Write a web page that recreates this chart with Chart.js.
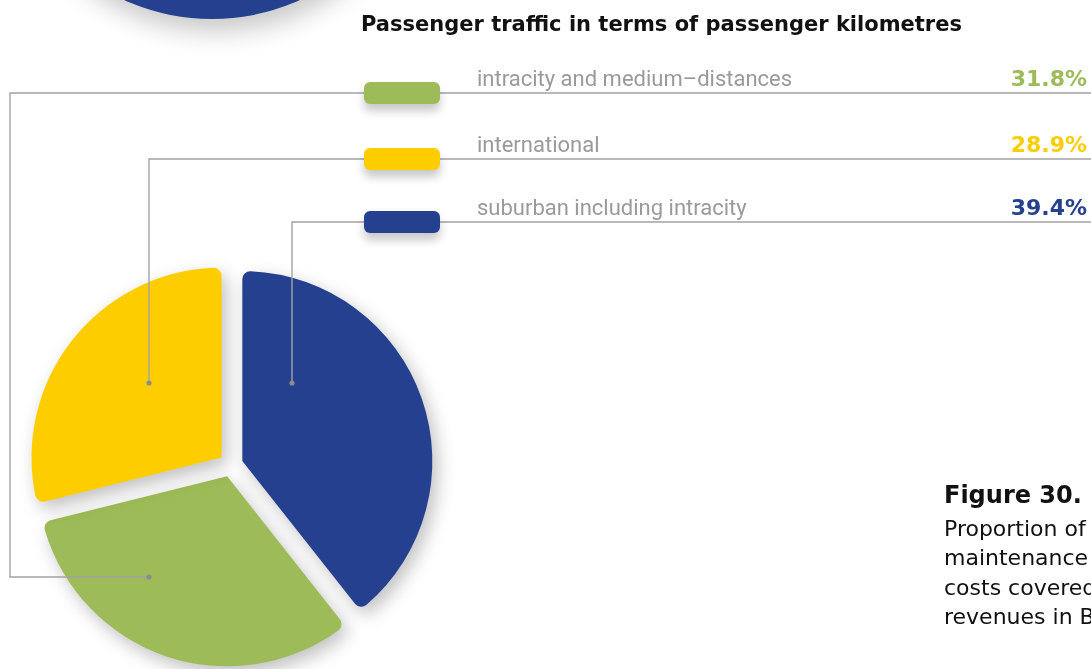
<!DOCTYPE html>
<html lang="en">
<head>
<meta charset="UTF-8">
<title>Passenger traffic in terms of passenger kilometres</title>
<style>
  *{
    margin: 0;
    padding: 0;
  }
  body{
    background: #fff;
  }
  #page{
    position: relative;
    width: 1091px;
    height: 669px;
    overflow: hidden;
    background: #fff;
    font-family: Roboto, sans-serif;
  }
  /* bottom of the previous figure's pie, cut by the page top */
  .prevPie{
    position: absolute;
    left: -1px;
    top: -407px;
    width: 426px;
    height: 426px;
    border-radius: 50%;
    background: #24408e;
    box-shadow: 4px 12px 26px rgba(0,0,0,0.22);
  }
  #pieChart{
    position: absolute;
    left: 0;
    top: 0;
  }
  .title{
    position: absolute;
    left: 361px;
    top: 14px;
    font: 700 21px/21px "DejaVu Sans", sans-serif;
    color: #111;
    white-space: nowrap;
  }
  .pill{
    position: absolute;
    left: 364px;
    width: 76px;
    height: 22px;
    border-radius: 6px;
    box-shadow: 0 7px 10px rgba(0,0,0,0.22);
  }
  .label{
    position: absolute;
    left: 477px;
    font: 400 22px/22px Roboto, sans-serif;
    color: #9a9a9a;
    white-space: nowrap;
  }
  .pct{
    position: absolute;
    right: 4px;
    font: 700 22px/22px "DejaVu Sans", sans-serif;
    white-space: nowrap;
  }
  .capHead{
    position: absolute;
    left: 944px;
    top: 482.7px;
    font: 700 24px/24px "DejaVu Sans", sans-serif;
    color: #111;
    white-space: nowrap;
  }
  .capBody{
    position: absolute;
    left: 944px;
    top: 513.6px;
    font: 400 22px/29.5px "DejaVu Sans", sans-serif;
    color: #111;
    white-space: nowrap;
  }
</style>
</head>
<body>
  <div id="page">
    <div class="prevPie"></div>
    <canvas id="pieChart" width="1091" height="669"></canvas>
    <div class="title">Passenger traffic in terms of passenger kilometres</div>
    <div id="legend"></div>
    <div class="capHead">Figure 30.</div>
    <div class="capBody">Proportion of<br>maintenance<br>costs covered by<br>revenues in Bulgaria</div>
  </div>

  <script src="https://cdn.jsdelivr.net/npm/chart.js"></script>
  <script>
    // shares of passenger kilometres, %
    const categories = ['suburban including intracity', 'intracity and medium–distances', 'international'];
    const shares = [39.4, 31.8, 28.9];
    const sliceColors = ['#24408e', '#9dbb58', '#fecd00'];
    // legend rows from top to bottom (indexes into the arrays above)
    const legendOrder = [1, 2, 0];

    // layout
    const rowY = [93, 159, 222];
    const sliceGap = 12;
    // where each leader line ends, relative to the pie centre
    const leaderDots = [[61, -82], [-82, 112], [-82, -82]];
    const leaderElbowX = [null, 10, null];

    //legend rows
    const legend = document.getElementById('legend');
    legendOrder.forEach((i, row) => {
      const y = rowY[row];
      legend.insertAdjacentHTML('beforeend',
        '<div class="pill" style="top:' + (y - 11) + 'px;background:' + sliceColors[i] + '"></div>' +
        '<div class="label" style="top:' + (y - 25.5) + 'px">' + categories[i] + '</div>' +
        '<div class="pct" style="top:' + (y - 24.6) + 'px;color:' + sliceColors[i] + '">' + shares[i].toFixed(1) + '%</div>');
    });

    // push every slice out from the centre along its middle angle
    const explode = {
      id: 'explode',
      afterDatasetsUpdate(chart){
        chart.getDatasetMeta(0).data.forEach(arc => {
          const mid = (arc.startAngle + arc.endAngle) / 2;
          arc.x += Math.cos(mid) * sliceGap;
          arc.y += Math.sin(mid) * sliceGap;
        });
      }
    };

    // soft drop shadow under the slices
    const sliceShadow = {
      id: 'sliceShadow',
      beforeDatasetsDraw(chart){
        const ctx = chart.ctx;
        ctx.save();
        ctx.shadowColor = 'rgba(0,0,0,0.25)';
        ctx.shadowBlur = 18;
        ctx.shadowOffsetX = 5;
        ctx.shadowOffsetY = 7;
      },
      afterDatasetsDraw(chart){
        chart.ctx.restore();
      }
    };

    // grey lines from the legend rows down to the slices
    const leaderLines = {
      id: 'leaderLines',
      afterDatasetsDraw(chart){
        const ctx = chart.ctx;
        const area = chart.chartArea;
        const cx = (area.left + area.right) / 2;
        const cy = (area.top + area.bottom) / 2;
        ctx.save();
        ctx.strokeStyle = '#a3a3a3';
        ctx.lineWidth = 1.4;
        legendOrder.forEach((i, row) => {
          const y = rowY[row];
          const dx = cx + leaderDots[i][0];
          const dy = cy + leaderDots[i][1];
          const ex = leaderElbowX[i] === null ? dx : leaderElbowX[i];
          ctx.beginPath();
          ctx.moveTo(chart.width, y);
          ctx.lineTo(ex, y);
          ctx.lineTo(ex, dy);
          ctx.lineTo(dx, dy);
          ctx.stroke();
          ctx.fillStyle = '#8c8c8c';
          ctx.beginPath();
          ctx.arc(dx, dy, 2.6, 0, Math.PI * 2);
          ctx.fill();
        });
        ctx.restore();
      }
    };

    const myChart = new Chart(document.getElementById('pieChart'), {
      type: 'pie',
      data: {
        labels: categories,
        datasets: [{
          data: shares,
          backgroundColor: sliceColors,
          borderWidth: 0,
          borderRadius: 8,
          radius: 190
        }]
      },
      options: {
        responsive: false,
        animation: false,
        events: [],
        layout: {
          padding: { left: 31, right: 660, top: 265, bottom: 4 }
        },
        plugins: {
          legend: { display: false },
          tooltip: { enabled: false }
        }
      },
      plugins: [explode, sliceShadow, leaderLines]
    });
  </script>
</body>
</html>
